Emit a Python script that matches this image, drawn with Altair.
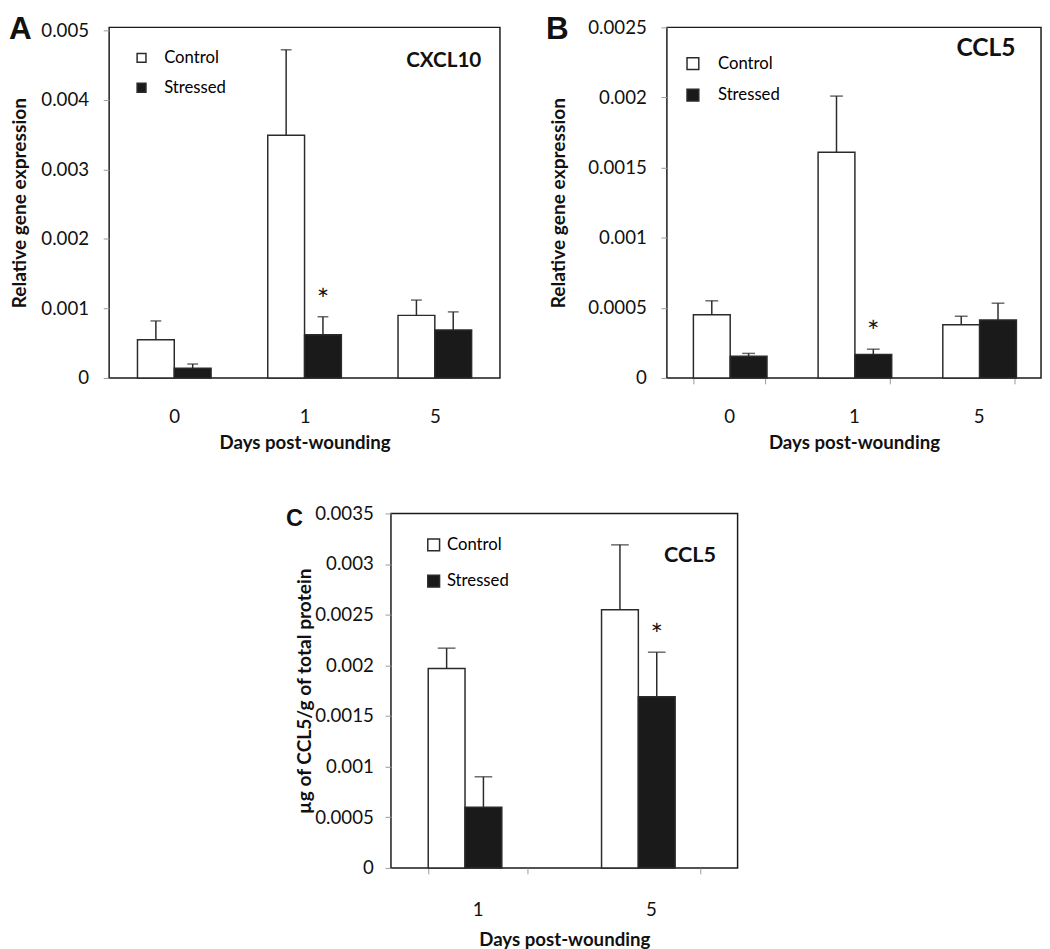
import altair as alt
import pandas as pd

GROUPS = ["Control", "Stressed"]

# Panel A - CXCL10 relative gene expression
A_days = ["0", "1", "5"]
A_control = [0.00055, 0.00349, 0.00090]
A_control_err = [0.00027, 0.00123, 0.00022]
A_stressed = [0.00014, 0.00062, 0.00069]
A_stressed_err = [0.00006, 0.00026, 0.00026]
A_sig = ["", "*", ""]

# Panel B - CCL5 relative gene expression
B_days = ["0", "1", "5"]
B_control = [0.00045, 0.00161, 0.00038]
B_control_err = [0.00010, 0.00040, 0.00006]
B_stressed = [0.000155, 0.000168, 0.000413]
B_stressed_err = [0.00002, 0.000037, 0.00012]
B_sig = ["", "*", ""]

# Panel C - CCL5 protein
C_days = ["1", "5"]
C_control = [0.00197, 0.00255]
C_control_err = [0.00020, 0.00064]
C_stressed = [0.00060, 0.00169]
C_stressed_err = [0.00030, 0.00044]
C_sig = ["", "*"]

A_ticks = [0, 0.001, 0.002, 0.003, 0.004, 0.005]
B_ticks = [0, 0.0005, 0.001, 0.0015, 0.002, 0.0025]
C_ticks = [0, 0.0005, 0.001, 0.0015, 0.002, 0.0025, 0.003, 0.0035]

FONT = "Lato"
INK = "#2a2a2a"


def make_df(days, c, ce, s, se, sig):
    rows = []
    for i, d in enumerate(days):
        rows.append(dict(day=d, group="Control", mean=c[i], upper=c[i] + ce[i], sig=""))
        rows.append(dict(day=d, group="Stressed", mean=s[i], upper=s[i] + se[i], sig=sig[i]))
    return pd.DataFrame(rows)


def panel(df, days, ymax, yticks, width, height, pad, cap, xticks,
          leg, gene, gene_xy, gene_size, letter, letter_xy, letter_size,
          ytitle, ytitle_x, xtitle_y, ylab_pad, xlab_pad):
    xdef = alt.X(
        "day:N", sort=days,
        scale=alt.Scale(paddingInner=pad, paddingOuter=pad / 2),
        axis=alt.Axis(title="Days post-wounding", ticks=xticks, tickBand="extent",
                      tickColor="#999", tickSize=6, domain=False, labelAngle=0,
                      labelFontSize=19, labelPadding=xlab_pad, labelFont=FONT,
                      titleY=xtitle_y, titleBaseline="middle", titleFontSize=19,
                      titleFontWeight="bold", titleFont=FONT))
    xo = alt.XOffset("group:N", sort=GROUPS,
                     scale=alt.Scale(paddingInner=0, paddingOuter=0))

    def ydef(field):
        return alt.Y(
            field + ":Q",
            scale=alt.Scale(domain=[0, ymax], nice=False, zero=True),
            axis=alt.Axis(title=ytitle, values=yticks, format="~g", grid=False,
                          domain=False, tickColor="#999", tickSize=6,
                          labelFontSize=19, labelPadding=ylab_pad, labelFont=FONT,
                          titleX=ytitle_x, titleBaseline="middle", titleFontSize=19.5,
                          titleFontWeight="bold", titleFont=FONT))

    base = alt.Chart(df)
    bars = base.mark_bar(stroke=INK, strokeWidth=1.5).encode(
        x=xdef, xOffset=xo, y=ydef("mean"),
        fill=alt.Fill("group:N", sort=GROUPS,
                      scale=alt.Scale(domain=GROUPS, range=["#ffffff", "#1a1a1a"]),
                      legend=alt.Legend(orient="none", legendX=leg[0], legendY=leg[1],
                                        title=None, symbolType="square",
                                        symbolSize=leg[2] * leg[2],
                                        symbolStrokeColor=INK, symbolStrokeWidth=1.5,
                                        labelFontSize=17, labelFont=FONT,
                                        labelOffset=leg[3], rowPadding=leg[4],
                                        padding=0)))
    err = base.mark_rule(color=INK, strokeWidth=1.5).encode(
        x=xdef, xOffset=xo, y=ydef("mean"), y2=alt.Y2("upper:Q"))
    caps = base.mark_tick(color=INK, thickness=1.5, size=cap, orient="horizontal").encode(
        x=xdef, xOffset=xo, y=ydef("upper"))
    stars = base.transform_filter("datum.sig == '*'").mark_text(
        fontSize=30, font=FONT, baseline="alphabetic", dy=-7, color="#111").encode(
        x=xdef, xOffset=xo, y=ydef("upper"), text="sig:N")
    gene_t = alt.Chart(pd.DataFrame({"t": [gene]})).mark_text(
        align="right", baseline="middle", fontSize=gene_size, fontWeight="bold",
        font=FONT, color="#111").encode(
        x=alt.value(gene_xy[0]), y=alt.value(gene_xy[1]), text="t:N")
    letter_t = alt.Chart(pd.DataFrame({"t": [letter]})).mark_text(
        align="left", baseline="top", fontSize=letter_size, fontWeight="bold",
        font="Liberation Sans", color="#111").encode(
        x=alt.value(letter_xy[0]), y=alt.value(letter_xy[1]), text="t:N")
    return alt.layer(bars, err, caps, stars, gene_t, letter_t).properties(
        width=width, height=height,
        view=alt.ViewBackground(stroke="#1a1a1a", strokeWidth=1.5))


dfA = make_df(A_days, A_control, A_control_err, A_stressed, A_stressed_err, A_sig)
dfB = make_df(B_days, B_control, B_control_err, B_stressed, B_stressed_err, B_sig)
dfC = make_df(C_days, C_control, C_control_err, C_stressed, C_stressed_err, C_sig)

A = panel(dfA, A_days, 0.005 * 357 / 354, A_ticks, 398, 357, 0.435, 11, False,
          (24.5, 22.5, 9, 14.5, 12.5), "CXCL10", (379, 34), 21, "A", (-102, -13), 32,
          "Relative gene expression", -91, 66, 15, 30)
B = panel(dfB, B_days, 0.0025, B_ticks, 381, 357, 0.425, 13, True,
          (18, 28.5, 12, 17, 13), "CCL5", (355, 21), 25, "B", (-123, -13), 32,
          "Relative gene expression", -110, 66, 15, 24)
C = panel(dfC, C_days, 0.0035, C_ticks, 353, 361, 0.43, 18, True,
          (35, 23.5, 12, 5, 18), "CCL5", (331, 42), 22, "C", (-107, -6), 24,
          "µg of CCL5/g of total protein", -88, 73, 12, 27)

spacer = alt.Chart(pd.DataFrame({"v": [0]})).mark_rule(opacity=0).encode(
    x=alt.value(0), y=alt.value(0), y2=alt.value(1)).properties(
    width=1, height=1, view=alt.ViewBackground(strokeOpacity=0))

top = alt.hconcat(A, B, spacing=170, bounds="flush").resolve_scale(
    fill="independent").resolve_legend(fill="independent")
bottom = alt.hconcat(spacer, C, spacing=286, bounds="flush").resolve_scale(
    fill="independent").resolve_legend(fill="independent")

chart = alt.vconcat(top, bottom, spacing=51).resolve_scale(
    fill="independent").resolve_legend(fill="independent").properties(
    padding={"left": 0, "top": -4, "right": 0, "bottom": 0},
    background="white").configure(font=FONT).configure_axis(
    labelColor="#111", titleColor="#111")

chart.save("out.html", embed_options={"renderer": "svg", "actions": False})
